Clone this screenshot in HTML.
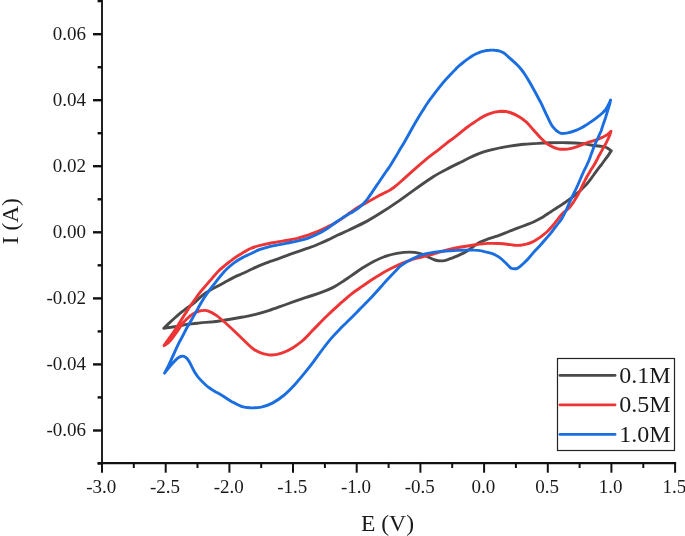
<!DOCTYPE html><html><head><meta charset="utf-8"><style>html,body{margin:0;padding:0;background:#fff;}svg{display:block;will-change:transform;}text{font-family:"Liberation Serif",serif;fill:#1a1a1a;}</style></head><body>
<svg width="685" height="536" viewBox="0 0 685 536">
<path d="M163.8 328.3 C164.7 327.4 167.6 324.6 169.4 322.9 C171.2 321.2 172.9 319.6 174.7 318.0 C176.5 316.4 178.2 314.9 180.0 313.4 C181.9 311.9 184.0 310.2 185.8 308.9 C187.6 307.6 189.3 306.5 190.9 305.4 C192.5 304.2 193.6 303.5 195.4 301.9 C197.2 300.3 199.5 297.7 201.9 295.8 C204.2 293.9 207.0 292.1 209.6 290.6 C212.2 289.0 214.8 287.7 217.4 286.3 C220.0 284.9 222.6 283.4 225.2 282.0 C227.8 280.6 230.5 279.1 232.9 277.9 C235.4 276.7 237.4 275.8 240.0 274.7 C242.5 273.5 245.0 272.5 248.0 271.0 C251.1 269.6 254.9 267.6 258.3 266.1 C261.7 264.6 265.3 263.3 268.5 262.1 C271.8 260.9 274.9 260.0 278.0 258.8 C281.1 257.7 284.1 256.6 287.3 255.4 C290.5 254.2 293.5 253.1 297.1 251.8 C300.7 250.6 305.2 249.2 308.8 247.9 C312.4 246.6 315.5 245.4 318.7 244.0 C321.9 242.7 324.9 241.4 328.0 239.9 C331.1 238.5 333.9 236.9 337.3 235.3 C340.7 233.7 343.5 232.6 348.5 230.3 C353.4 227.9 361.5 224.1 367.1 221.1 C372.6 218.1 376.7 215.5 381.7 212.3 C386.7 209.2 391.5 206.0 397.1 202.1 C402.7 198.3 409.2 193.4 415.3 189.1 C421.4 184.9 427.9 180.1 433.6 176.5 C439.3 173.0 444.7 170.3 449.3 167.9 C453.9 165.5 457.3 163.9 461.2 162.0 C465.1 160.0 468.7 158.0 472.4 156.4 C476.1 154.7 479.8 153.2 483.6 151.9 C487.4 150.6 491.0 149.7 495.4 148.8 C499.7 147.8 504.9 146.9 509.7 146.1 C514.5 145.4 519.7 144.7 524.3 144.3 C528.9 143.8 533.1 143.6 537.4 143.4 C541.6 143.1 544.9 142.9 549.8 142.8 C554.8 142.7 561.6 142.6 567.3 142.7 C573.0 142.8 580.0 143.3 583.9 143.7 C587.8 144.1 588.7 144.7 590.8 145.0 C592.8 145.4 594.4 145.6 596.2 145.8 C598.0 146.0 600.0 146.1 601.8 146.4 C603.6 146.7 605.6 147.1 607.1 147.8 C608.7 148.5 610.5 150.3 611.2 150.8 C610.7 151.5 609.5 153.6 608.4 155.1 C607.3 156.7 606.0 158.4 604.8 160.0 C603.6 161.6 602.4 163.3 601.2 165.0 C599.9 166.7 598.5 168.3 597.3 170.0 C596.0 171.7 594.7 173.3 593.6 175.0 C592.4 176.7 591.3 178.4 590.1 179.9 C588.9 181.5 587.6 183.1 586.4 184.5 C585.1 185.8 583.8 187.0 582.6 188.2 C581.4 189.4 580.5 190.3 579.2 191.5 C577.9 192.6 576.4 193.9 575.0 195.1 C573.6 196.2 572.1 197.4 570.7 198.4 C569.3 199.4 568.0 200.4 566.7 201.3 C565.5 202.2 564.3 203.0 563.0 203.9 C561.7 204.8 560.2 205.7 558.8 206.6 C557.4 207.5 555.9 208.5 554.4 209.4 C552.9 210.4 551.5 211.3 550.1 212.3 C548.6 213.2 547.4 214.1 545.8 215.1 C544.2 216.1 542.4 217.3 540.6 218.3 C538.7 219.4 536.9 220.4 534.5 221.5 C532.2 222.5 529.1 223.7 526.3 224.8 C523.4 225.9 520.4 227.1 517.5 228.2 C514.6 229.4 511.6 230.4 508.8 231.5 C506.0 232.6 503.0 233.9 500.9 234.7 C498.7 235.5 498.2 235.7 496.1 236.4 C493.9 237.1 490.9 237.9 488.2 238.9 C485.5 239.9 482.3 241.0 479.7 242.4 C477.1 243.7 474.9 245.6 472.6 247.1 C470.3 248.7 468.4 250.3 465.9 251.7 C463.4 253.2 460.3 254.6 457.5 255.8 C454.6 257.0 451.5 258.3 448.9 259.2 C446.4 260.0 444.5 260.7 442.2 260.9 C439.9 261.0 437.4 260.7 434.9 260.0 C432.5 259.3 430.0 257.7 427.5 256.6 C424.9 255.5 422.6 254.0 419.6 253.3 C416.5 252.5 413.1 252.1 409.3 252.1 C405.5 252.1 400.9 252.7 396.8 253.4 C392.7 254.2 388.8 255.2 384.9 256.5 C381.0 257.9 377.3 259.6 373.6 261.5 C369.9 263.5 366.1 265.8 362.4 268.1 C358.7 270.5 354.9 273.2 351.4 275.6 C348.0 277.9 344.9 280.1 341.8 282.1 C338.8 284.1 336.7 285.6 333.2 287.4 C329.6 289.2 325.3 291.0 320.6 292.7 C316.0 294.4 311.0 295.8 305.4 297.7 C299.9 299.6 293.3 301.9 287.3 304.0 C281.3 306.1 274.7 308.6 269.4 310.4 C264.2 312.1 259.7 313.4 255.6 314.4 C251.6 315.5 248.7 315.9 245.2 316.6 C241.6 317.2 237.9 317.9 234.4 318.5 C230.8 319.2 227.5 319.8 223.9 320.3 C220.4 320.8 216.5 321.4 213.2 321.8 C210.0 322.1 207.0 322.1 204.3 322.4 C201.7 322.6 199.5 323.0 197.4 323.2 C195.3 323.5 193.5 323.7 191.6 323.9 C189.7 324.1 187.9 324.2 185.7 324.6 C183.5 325.0 180.9 325.6 178.4 326.1 C176.0 326.5 173.5 326.9 171.0 327.3 C168.6 327.6 165.0 328.1 163.8 328.3Z" fill="none" stroke="#4a4a4a" stroke-width="2.9" stroke-linejoin="round" stroke-linecap="round"/>
<path d="M164.0 345.6 C164.7 344.6 166.7 341.8 168.2 339.5 C169.8 337.3 171.7 334.8 173.4 332.3 C175.1 329.8 176.8 327.1 178.3 324.7 C179.8 322.4 181.0 320.3 182.4 318.1 C183.8 315.9 185.3 313.7 186.7 311.6 C188.0 309.5 189.2 307.6 190.6 305.5 C192.0 303.4 193.5 301.3 195.2 299.0 C196.8 296.7 198.8 294.0 200.6 291.7 C202.4 289.3 204.3 287.3 206.2 285.1 C208.1 282.8 209.9 280.7 212.0 278.4 C214.0 276.1 216.3 273.3 218.3 271.2 C220.4 269.2 222.2 267.7 224.3 266.0 C226.3 264.2 228.6 262.5 230.8 260.8 C233.0 259.1 235.3 257.4 237.5 256.0 C239.7 254.5 242.0 253.3 244.1 252.1 C246.3 250.8 248.0 249.5 250.5 248.5 C253.1 247.4 256.3 246.5 259.3 245.7 C262.3 244.8 265.6 244.1 268.7 243.5 C271.8 242.8 274.9 242.4 278.0 241.8 C281.1 241.3 284.1 240.9 287.3 240.3 C290.5 239.7 293.5 239.2 297.1 238.3 C300.7 237.3 305.2 236.0 308.8 234.8 C312.4 233.6 315.5 232.2 318.5 231.0 C321.6 229.7 324.3 228.4 326.9 227.2 C329.6 225.9 332.0 224.8 334.5 223.3 C337.0 221.9 339.5 220.3 342.0 218.6 C344.5 216.9 346.9 215.0 349.6 213.0 C352.4 211.1 355.7 208.8 358.4 207.1 C361.1 205.4 363.6 204.3 366.0 203.0 C368.3 201.7 370.4 200.4 372.6 199.2 C374.8 197.9 377.0 196.7 379.0 195.6 C381.1 194.5 382.9 193.7 384.7 192.8 C386.6 191.9 388.2 191.2 389.9 190.1 C391.7 189.0 393.1 188.2 395.5 186.2 C397.9 184.3 401.1 181.3 404.4 178.4 C407.6 175.5 411.6 171.9 415.0 168.9 C418.4 165.8 421.4 163.1 424.9 160.3 C428.4 157.4 432.2 154.6 435.8 151.8 C439.4 149.0 443.5 145.6 446.4 143.4 C449.3 141.1 451.1 139.9 453.2 138.3 C455.3 136.7 457.0 135.4 458.9 133.9 C460.8 132.4 462.7 130.8 464.5 129.3 C466.3 127.9 468.3 126.5 470.0 125.2 C471.7 124.0 473.1 123.0 474.7 122.0 C476.3 120.9 477.5 120.0 479.6 118.7 C481.7 117.5 484.7 115.7 487.2 114.6 C489.7 113.5 492.3 112.8 494.8 112.2 C497.3 111.7 499.7 111.3 502.2 111.3 C504.7 111.4 507.2 111.7 510.0 112.5 C512.7 113.4 516.0 114.9 518.7 116.5 C521.5 118.1 523.9 120.0 526.4 122.2 C528.8 124.4 530.8 127.0 533.3 129.7 C535.8 132.4 538.6 135.9 541.2 138.5 C543.9 141.1 546.2 143.4 549.0 145.1 C551.8 146.8 555.0 148.2 558.0 148.8 C561.0 149.5 564.2 149.4 567.3 149.1 C570.4 148.8 573.6 147.9 576.5 146.9 C579.3 146.0 582.2 144.5 584.6 143.6 C586.9 142.7 588.7 142.2 590.6 141.6 C592.5 141.0 594.4 140.5 596.2 139.8 C598.0 139.2 600.0 138.4 601.6 137.7 C603.3 136.9 604.8 136.2 606.0 135.4 C607.3 134.7 608.1 133.9 609.0 133.2 C609.8 132.5 610.7 131.5 611.0 131.2 C610.8 131.7 610.5 132.9 610.1 134.1 C609.6 135.2 609.1 136.8 608.4 138.2 C607.8 139.6 607.0 141.2 606.3 142.6 C605.5 144.0 604.8 145.3 604.0 146.6 C603.3 147.9 602.5 149.2 601.8 150.6 C601.0 152.0 600.2 153.5 599.4 155.1 C598.5 156.6 597.7 158.3 596.8 160.0 C595.9 161.7 595.1 163.3 594.1 165.0 C593.1 166.7 592.0 168.3 590.9 170.0 C589.9 171.7 588.8 173.3 587.9 175.0 C586.9 176.7 586.1 178.3 585.2 180.0 C584.4 181.7 583.5 183.3 582.7 185.0 C581.9 186.7 581.3 188.3 580.4 190.0 C579.6 191.7 578.7 193.3 577.8 195.0 C576.8 196.7 575.8 198.4 574.8 199.9 C573.9 201.4 572.9 202.9 572.0 204.2 C571.1 205.5 570.4 206.5 569.4 207.6 C568.4 208.6 567.1 209.6 566.0 210.6 C564.9 211.5 563.7 212.4 562.7 213.4 C561.7 214.4 560.9 215.2 560.0 216.3 C559.0 217.5 558.2 218.7 557.0 220.3 C555.7 222.0 554.1 224.2 552.4 226.0 C550.8 227.9 549.0 229.9 547.3 231.5 C545.5 233.2 543.8 234.4 542.0 235.8 C540.3 237.1 538.5 238.3 536.8 239.4 C535.0 240.5 533.3 241.5 531.5 242.3 C529.8 243.1 528.1 243.6 526.3 244.1 C524.5 244.5 522.8 245.0 520.7 245.2 C518.7 245.4 516.3 245.4 514.0 245.2 C511.7 245.0 509.5 244.5 507.0 244.2 C504.5 243.9 502.4 243.7 499.1 243.5 C495.9 243.4 491.4 243.3 487.4 243.4 C483.5 243.6 479.8 244.1 475.4 244.7 C471.0 245.3 465.7 246.1 461.0 247.0 C456.3 247.9 450.9 249.1 447.1 250.0 C443.2 250.9 440.6 251.8 438.0 252.6 C435.3 253.3 433.5 254.1 431.1 254.7 C428.7 255.4 426.5 255.9 423.5 256.6 C420.5 257.4 416.9 258.0 413.3 259.1 C409.7 260.3 405.8 261.7 401.9 263.3 C398.0 265.0 393.5 267.2 389.9 269.0 C386.3 270.9 383.4 272.5 380.3 274.4 C377.2 276.2 374.4 278.0 371.4 280.0 C368.3 282.0 365.4 284.1 362.1 286.4 C358.8 288.7 354.8 291.4 351.6 293.9 C348.4 296.3 345.5 299.1 343.1 301.2 C340.6 303.2 339.0 304.7 337.2 306.3 C335.4 307.9 334.1 309.1 332.2 310.9 C330.3 312.7 328.0 314.9 325.8 317.0 C323.6 319.2 321.4 321.5 319.0 323.9 C316.6 326.4 314.1 329.0 311.3 331.8 C308.5 334.7 305.3 338.3 302.2 341.0 C299.1 343.6 296.0 345.8 292.6 347.9 C289.2 349.9 285.4 351.9 281.7 353.1 C278.0 354.3 274.1 355.1 270.5 355.0 C266.9 354.9 262.9 353.5 260.1 352.6 C257.2 351.6 255.4 350.3 253.4 349.0 C251.5 347.7 250.3 346.6 248.4 344.8 C246.5 343.0 244.2 340.6 242.0 338.5 C239.8 336.3 237.5 334.1 235.3 332.0 C233.1 329.8 230.8 327.7 228.6 325.7 C226.4 323.7 224.1 321.7 222.1 320.0 C220.0 318.2 218.2 316.7 216.3 315.4 C214.4 314.1 212.6 312.9 210.7 312.1 C208.8 311.2 206.9 310.6 205.0 310.4 C203.1 310.2 201.0 310.6 199.3 311.0 C197.7 311.4 196.4 312.2 195.0 312.8 C193.7 313.5 192.5 314.3 191.4 315.0 C190.4 315.8 189.5 316.5 188.7 317.3 C187.8 318.0 187.2 318.7 186.4 319.4 C185.6 320.2 184.8 320.9 183.9 322.0 C183.0 323.1 182.0 324.3 180.8 326.0 C179.6 327.7 178.2 330.0 176.7 332.1 C175.2 334.1 173.6 336.7 172.0 338.5 C170.5 340.4 169.0 342.1 167.6 343.3 C166.3 344.5 164.6 345.2 164.0 345.6Z" fill="none" stroke="#ee3535" stroke-width="2.9" stroke-linejoin="round" stroke-linecap="round"/>
<path d="M164.5 373.1 C165.3 371.5 167.9 366.9 169.5 363.5 C171.2 360.1 172.7 356.3 174.3 352.8 C175.9 349.3 177.6 345.6 179.1 342.6 C180.6 339.7 181.8 337.6 183.1 335.1 C184.4 332.6 185.6 330.1 186.9 327.8 C188.2 325.6 189.4 323.4 190.6 321.4 C191.8 319.3 192.9 317.5 194.1 315.4 C195.2 313.4 196.2 311.7 197.6 309.1 C199.1 306.5 201.0 302.8 202.8 299.9 C204.6 297.0 206.5 294.4 208.4 291.7 C210.3 289.1 212.1 286.8 214.2 284.1 C216.2 281.5 218.5 278.3 220.7 275.7 C222.9 273.1 225.2 270.5 227.5 268.3 C229.8 266.2 231.9 264.4 234.4 262.6 C236.8 260.9 239.4 259.3 242.0 257.9 C244.7 256.4 247.3 255.4 250.2 254.0 C253.1 252.7 256.2 250.9 259.3 249.7 C262.4 248.5 265.6 247.6 268.7 246.8 C271.8 246.0 274.9 245.5 278.0 244.9 C281.1 244.3 284.1 243.8 287.3 243.1 C290.5 242.5 293.5 242.0 297.1 241.1 C300.7 240.2 305.2 239.1 308.8 237.8 C312.4 236.5 315.5 235.1 318.7 233.5 C321.8 231.9 324.9 230.0 327.7 228.2 C330.5 226.4 332.9 224.5 335.3 222.8 C337.7 221.1 339.9 219.5 342.0 218.1 C344.1 216.7 346.3 215.4 348.1 214.4 C349.8 213.4 350.8 213.1 352.6 212.0 C354.3 211.0 356.6 209.6 358.4 208.2 C360.2 206.8 361.7 205.3 363.3 203.7 C364.9 202.1 366.5 200.3 367.8 198.5 C369.2 196.6 370.4 194.7 371.7 192.9 C373.0 191.0 374.2 189.2 375.4 187.3 C376.7 185.5 377.9 183.6 379.2 181.8 C380.4 180.0 381.7 178.1 382.9 176.3 C384.1 174.5 385.3 172.7 386.5 171.0 C387.7 169.3 388.6 168.1 389.9 166.2 C391.2 164.2 392.8 161.6 394.3 159.1 C395.8 156.6 397.4 153.9 399.0 151.1 C400.6 148.3 402.1 146.1 404.2 142.5 C406.3 138.8 409.2 133.5 411.6 129.2 C414.0 125.0 416.7 120.4 418.7 117.1 C420.6 113.9 421.7 112.2 423.2 109.8 C424.7 107.4 426.1 105.0 427.9 102.5 C429.6 100.0 431.5 97.5 433.5 94.9 C435.4 92.3 437.7 89.3 439.7 86.8 C441.7 84.3 443.5 82.1 445.4 80.0 C447.3 77.9 449.2 76.0 451.0 74.1 C452.8 72.2 454.8 70.0 456.3 68.4 C457.9 66.8 459.2 65.8 460.5 64.6 C461.9 63.5 463.1 62.5 464.5 61.4 C465.9 60.4 467.1 59.4 468.6 58.4 C470.1 57.3 471.7 56.2 473.3 55.2 C475.0 54.3 476.7 53.4 478.4 52.8 C480.1 52.1 481.8 51.6 483.6 51.2 C485.5 50.7 487.6 50.3 489.4 50.2 C491.3 50.0 493.0 50.1 494.7 50.3 C496.4 50.4 498.2 50.7 499.7 51.1 C501.3 51.6 502.5 52.1 503.9 53.0 C505.3 53.9 506.6 55.2 508.1 56.6 C509.7 58.0 511.4 59.7 513.1 61.2 C514.8 62.7 516.5 64.3 518.1 65.8 C519.6 67.4 520.9 69.0 522.1 70.5 C523.4 72.1 524.2 73.5 525.4 75.2 C526.6 77.0 527.4 78.3 529.1 81.3 C530.8 84.2 533.5 89.1 535.5 92.8 C537.5 96.5 539.3 99.7 541.2 103.4 C543.1 107.2 544.9 111.5 546.8 115.4 C548.7 119.3 550.5 123.8 552.7 126.7 C554.9 129.7 557.4 132.0 559.9 133.0 C562.4 134.0 564.9 133.3 567.6 132.9 C570.2 132.4 573.6 131.2 575.9 130.3 C578.1 129.5 579.4 128.9 581.1 128.0 C582.8 127.2 584.3 126.2 586.1 125.1 C587.8 124.0 589.7 122.7 591.6 121.4 C593.5 120.1 595.6 118.6 597.4 117.1 C599.3 115.7 601.3 114.0 602.7 112.7 C604.1 111.3 605.0 110.5 606.0 109.2 C606.9 107.9 607.6 106.4 608.4 104.8 C609.2 103.3 610.2 100.8 610.6 100.0 C610.4 100.7 610.2 102.2 609.7 104.0 C609.2 105.8 608.3 108.5 607.6 110.9 C606.9 113.3 606.1 115.9 605.4 118.2 C604.6 120.4 603.9 122.3 603.2 124.4 C602.5 126.5 601.8 128.8 601.2 130.7 C600.5 132.5 599.7 133.9 599.0 135.5 C598.3 137.1 597.5 138.8 596.8 140.5 C596.0 142.2 595.2 143.8 594.5 145.5 C593.8 147.2 593.2 148.8 592.6 150.4 C592.0 152.0 591.5 153.5 590.9 155.1 C590.4 156.7 589.7 158.3 589.1 160.0 C588.4 161.7 587.7 163.3 586.9 165.0 C586.2 166.7 585.2 168.3 584.4 170.0 C583.6 171.7 582.9 173.3 582.1 175.0 C581.4 176.7 580.7 178.3 580.0 180.0 C579.3 181.7 578.5 183.3 577.8 185.0 C577.0 186.7 576.3 188.3 575.5 190.0 C574.7 191.7 573.8 193.3 573.0 195.0 C572.2 196.7 571.4 198.3 570.7 199.9 C569.9 201.5 569.3 203.0 568.6 204.5 C568.0 206.0 567.4 207.5 566.7 209.0 C566.0 210.5 565.3 212.0 564.5 213.6 C563.7 215.1 562.8 216.9 561.9 218.4 C560.9 220.0 559.7 221.5 558.6 223.0 C557.5 224.5 556.4 225.8 555.0 227.5 C553.7 229.2 552.3 231.2 550.7 233.2 C549.1 235.1 547.2 237.3 545.5 239.3 C543.8 241.3 542.0 243.4 540.3 245.2 C538.5 247.1 536.7 248.8 535.0 250.7 C533.4 252.5 531.7 254.8 530.3 256.3 C529.0 257.8 528.2 258.7 527.1 259.9 C526.0 261.0 524.8 262.2 523.7 263.2 C522.5 264.3 521.3 265.4 520.2 266.3 C519.2 267.1 518.4 267.9 517.4 268.3 C516.5 268.7 515.5 268.8 514.4 268.8 C513.4 268.8 512.2 268.8 511.2 268.3 C510.2 267.7 509.6 266.8 508.5 265.7 C507.3 264.6 505.8 263.0 504.4 261.7 C503.0 260.3 501.5 258.9 500.1 257.9 C498.6 256.8 497.4 256.1 495.8 255.3 C494.3 254.5 492.5 253.8 490.8 253.2 C489.1 252.6 487.3 252.2 485.5 251.8 C483.8 251.3 482.1 250.8 480.3 250.6 C478.4 250.3 476.8 250.1 474.5 250.1 C472.2 250.0 469.1 250.0 466.3 250.1 C463.5 250.1 460.4 250.3 457.5 250.4 C454.6 250.6 451.9 250.7 448.8 250.9 C445.7 251.1 442.9 251.1 439.0 251.6 C435.1 252.1 429.6 252.8 425.2 253.9 C420.9 255.1 417.0 256.6 413.1 258.5 C409.1 260.4 404.3 263.3 401.4 265.4 C398.5 267.5 397.6 269.0 395.6 271.0 C393.6 273.0 391.5 275.2 389.3 277.5 C387.1 279.8 384.8 282.4 382.6 284.9 C380.3 287.4 378.1 290.0 375.8 292.5 C373.5 295.1 371.4 297.5 368.6 300.3 C365.9 303.2 362.5 306.5 359.4 309.6 C356.3 312.7 353.1 316.0 350.1 319.0 C347.1 322.0 344.3 324.5 341.3 327.6 C338.3 330.7 335.2 333.8 332.1 337.4 C329.0 340.9 325.9 344.9 322.8 349.0 C319.7 353.1 316.5 357.7 313.4 361.9 C310.3 366.0 307.2 369.9 304.1 373.7 C301.0 377.5 297.9 381.2 294.5 384.9 C291.1 388.5 287.3 392.5 283.6 395.5 C279.9 398.6 276.1 401.2 272.4 403.1 C268.7 405.0 264.9 406.3 261.2 407.1 C257.5 407.8 253.7 407.9 250.4 407.8 C247.1 407.6 244.4 407.3 241.3 406.3 C238.2 405.3 235.1 403.5 231.8 401.7 C228.5 399.8 224.4 396.9 221.7 395.3 C219.0 393.6 217.1 392.7 215.4 391.7 C213.8 390.7 213.2 390.5 211.7 389.5 C210.2 388.4 208.3 387.2 206.3 385.5 C204.4 383.8 201.9 381.4 200.1 379.4 C198.3 377.4 196.8 375.5 195.5 373.4 C194.1 371.4 193.1 369.0 191.9 366.9 C190.8 364.7 189.7 362.2 188.6 360.6 C187.5 358.9 186.4 357.7 185.2 357.0 C184.1 356.3 183.0 355.9 181.7 356.2 C180.4 356.4 178.9 357.2 177.4 358.3 C175.9 359.5 174.4 361.4 172.9 363.0 C171.4 364.6 169.9 366.3 168.5 368.0 C167.1 369.7 165.2 372.2 164.5 373.1Z" fill="none" stroke="#1a6ee0" stroke-width="2.9" stroke-linejoin="round" stroke-linecap="round"/>
<g stroke="#111" stroke-width="2" fill="none">
<line x1="102" y1="0" x2="102" y2="464.2" stroke="#222"/>
<line x1="97.6" y1="463.2" x2="676.1" y2="463.2" stroke-width="2.2"/>
<line x1="97.6" y1="463.5" x2="102" y2="463.5" stroke-width="2.4"/>
<line x1="93" y1="430.5" x2="102" y2="430.5" stroke-width="2.4"/>
<line x1="97.6" y1="397.4" x2="102" y2="397.4" stroke-width="2.4"/>
<line x1="93" y1="364.4" x2="102" y2="364.4" stroke-width="2.4"/>
<line x1="97.6" y1="331.4" x2="102" y2="331.4" stroke-width="2.4"/>
<line x1="93" y1="298.4" x2="102" y2="298.4" stroke-width="2.4"/>
<line x1="97.6" y1="265.3" x2="102" y2="265.3" stroke-width="2.4"/>
<line x1="93" y1="232.3" x2="102" y2="232.3" stroke-width="2.4"/>
<line x1="97.6" y1="199.3" x2="102" y2="199.3" stroke-width="2.4"/>
<line x1="93" y1="166.2" x2="102" y2="166.2" stroke-width="2.4"/>
<line x1="97.6" y1="133.2" x2="102" y2="133.2" stroke-width="2.4"/>
<line x1="93" y1="100.2" x2="102" y2="100.2" stroke-width="2.4"/>
<line x1="97.6" y1="67.2" x2="102" y2="67.2" stroke-width="2.4"/>
<line x1="93" y1="34.2" x2="102" y2="34.2" stroke-width="2.4"/>
<line x1="97.6" y1="1.1" x2="102" y2="1.1" stroke-width="2.4"/>
<line x1="102.0" y1="463" x2="102.0" y2="472.7"/>
<line x1="133.8" y1="463" x2="133.8" y2="468"/>
<line x1="165.7" y1="463" x2="165.7" y2="472.7"/>
<line x1="197.5" y1="463" x2="197.5" y2="468"/>
<line x1="229.4" y1="463" x2="229.4" y2="472.7"/>
<line x1="261.2" y1="463" x2="261.2" y2="468"/>
<line x1="293.0" y1="463" x2="293.0" y2="472.7"/>
<line x1="324.9" y1="463" x2="324.9" y2="468"/>
<line x1="356.7" y1="463" x2="356.7" y2="472.7"/>
<line x1="388.6" y1="463" x2="388.6" y2="468"/>
<line x1="420.4" y1="463" x2="420.4" y2="472.7"/>
<line x1="452.2" y1="463" x2="452.2" y2="468"/>
<line x1="484.1" y1="463" x2="484.1" y2="472.7"/>
<line x1="515.9" y1="463" x2="515.9" y2="468"/>
<line x1="547.8" y1="463" x2="547.8" y2="472.7"/>
<line x1="579.6" y1="463" x2="579.6" y2="468"/>
<line x1="611.4" y1="463" x2="611.4" y2="472.7"/>
<line x1="643.3" y1="463" x2="643.3" y2="468"/>
<line x1="675.1" y1="463" x2="675.1" y2="472.7"/>
</g>
<text x="86" y="436.3" font-size="19" text-anchor="end">-0.06</text>
<text x="86" y="370.2" font-size="19" text-anchor="end">-0.04</text>
<text x="86" y="304.2" font-size="19" text-anchor="end">-0.02</text>
<text x="86" y="238.1" font-size="19" text-anchor="end">0.00</text>
<text x="86" y="172.1" font-size="19" text-anchor="end">0.02</text>
<text x="86" y="106.0" font-size="19" text-anchor="end">0.04</text>
<text x="86" y="40.0" font-size="19" text-anchor="end">0.06</text>
<text x="101.3" y="492.5" font-size="19" text-anchor="middle">-3.0</text>
<text x="165.0" y="492.5" font-size="19" text-anchor="middle">-2.5</text>
<text x="228.7" y="492.5" font-size="19" text-anchor="middle">-2.0</text>
<text x="292.3" y="492.5" font-size="19" text-anchor="middle">-1.5</text>
<text x="356.0" y="492.5" font-size="19" text-anchor="middle">-1.0</text>
<text x="419.7" y="492.5" font-size="19" text-anchor="middle">-0.5</text>
<text x="483.4" y="492.5" font-size="19" text-anchor="middle">0.0</text>
<text x="547.1" y="492.5" font-size="19" text-anchor="middle">0.5</text>
<text x="610.7" y="492.5" font-size="19" text-anchor="middle">1.0</text>
<text x="674.4" y="492.5" font-size="19" text-anchor="middle">1.5</text>
<text x="387.5" y="531.4" font-size="23.6" text-anchor="middle">E (V)</text>
<text transform="translate(17.9 221.2) rotate(-90)" font-size="23.3" text-anchor="middle">I (A)</text>
<rect x="557.5" y="358.5" width="117" height="92" fill="#fff" stroke="#222" stroke-width="1.2"/>
<line x1="560" y1="375.4" x2="615" y2="375.4" stroke="#4a4a4a" stroke-width="2.9" stroke-linecap="round"/>
<text x="619.2" y="382.5" font-size="24">0.1M</text>
<line x1="560" y1="404.9" x2="615" y2="404.9" stroke="#ee3535" stroke-width="2.9" stroke-linecap="round"/>
<text x="619.2" y="412.0" font-size="24">0.5M</text>
<line x1="560" y1="434.4" x2="615" y2="434.4" stroke="#1a6ee0" stroke-width="2.9" stroke-linecap="round"/>
<text x="619.2" y="441.5" font-size="24">1.0M</text>
</svg></body></html>
